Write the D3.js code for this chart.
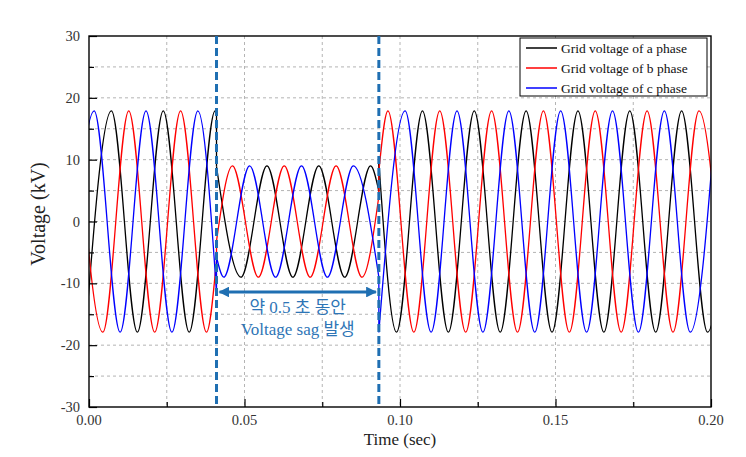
<!DOCTYPE html>
<html><head><meta charset="utf-8">
<script src="https://cdn.jsdelivr.net/npm/d3@7/dist/d3.min.js"></script>
<style>
body{margin:0;background:#fff}svg{display:block}
.serif{font-family:"Liberation Serif","Times New Roman","DejaVu Serif",serif}
.ann{font-family:"Liberation Serif","Noto Sans CJK KR",serif}
</style>
</head><body><svg id="chart" width="746" height="457"></svg>
<script>
// ---------- data ----------
const xTicks = [0, 0.05, 0.10, 0.15, 0.20];
const xTickLabels = ["0.00", "0.05", "0.10", "0.15", "0.20"];
const yTicks = [-30, -20, -10, 0, 10, 20, 30];
const seriesNames = ["Grid voltage of a phase", "Grid voltage of b phase", "Grid voltage of c phase"];
const seriesColors = ["#000000", "#ff0000", "#0000ff"];
const sagMarks = [0.0410, 0.0932];
const sagTextLines = ["약 0.5 초 동안", "Voltage sag 발생"];

// waveform key points [time (s), voltage (kV)] : extremes + step points
const aPre  = [[-0.00111,-17.9],[0.00722,17.9],[0.01555,-17.9],[0.02388,17.9],[0.03222,-17.9],[0.04055,17.9],[0.0410,17.65]];
const aSag  = [[0.0410,8.87],[0.04888,-9.0],[0.05722,9.0],[0.06555,-9.0],[0.07388,9.0],[0.08222,-9.0],[0.09055,9.0],[0.0932,4.88]];
const aPost = [[0.0932,9.70],[0.09888,-17.9],[0.10722,17.9],[0.11555,-17.9],[0.12388,17.9],[0.13222,-17.9],[0.14055,17.9],[0.14888,-17.9],[0.15722,17.9],[0.16555,-17.9],[0.17388,17.9],[0.18222,-17.9],[0.19055,17.9],[0.19888,-17.9],[0.20722,17.9]];

const bPre  = [[-0.00388,17.9],[0.00445,-17.9],[0.01278,17.9],[0.02112,-17.9],[0.02945,17.9],[0.03778,-17.9],[0.0410,-6.27]];
const bSag  = [[0.0410,-3.15],[0.04612,9.0],[0.05445,-9.0],[0.06278,9.0],[0.07112,-9.0],[0.07945,9.0],[0.08778,-9.0],[0.0932,4.09]];
const bPost = [[0.0932,8.13],[0.09612,17.9],[0.10445,-17.9],[0.11278,17.9],[0.12112,-17.9],[0.12945,17.9],[0.13778,-17.9],[0.14612,17.9],[0.15445,-17.9],[0.16278,17.9],[0.17112,-17.9],[0.17945,17.9],[0.18778,-17.9],[0.19612,17.9],[0.20445,-17.9]];

const cPre  = [[-0.00667,-17.9],[0.00166,17.9],[0.01000,-17.9],[0.01833,17.9],[0.02666,-17.9],[0.03500,17.9],[0.0410,-11.42]];
const cSag  = [[0.0410,-5.74],[0.04333,-9.0],[0.05166,9.0],[0.06000,-9.0],[0.06833,9.0],[0.07666,-9.0],[0.08500,9.0],[0.0932,-9.0]];
const cPost = [[0.0932,-17.9],[0.10166,17.9],[0.11000,-17.9],[0.11833,17.9],[0.12666,-17.9],[0.13500,17.9],[0.14333,-17.9],[0.15166,17.9],[0.16000,-17.9],[0.16833,17.9],[0.17666,-17.9],[0.18500,17.9],[0.19333,-17.9],[0.20166,17.9]];

const phaseSegments = [[aPre, aSag, aPost], [bPre, bSag, bPost], [cPre, cSag, cPost]];

// ---------- layout ----------
const L = 89, R = 711, T = 36, B = 407;
const svg = d3.select("#chart");
svg.append("rect").attr("width", 746).attr("height", 457).attr("fill", "#fff");

const x = d3.scaleLinear().domain([0, 0.2]).range([L, R]);
const y = d3.scaleLinear().domain([-30, 30]).range([B, T]);

// grid
const gridY = d3.range(-25, 30, 5);
const gridX = d3.range(0.025, 0.2, 0.025);
svg.append("g").selectAll("line").data(gridY).join("line")
  .attr("x1", L).attr("x2", R).attr("y1", d => y(d)).attr("y2", d => y(d))
  .attr("stroke", "#b4b4b4").attr("stroke-width", 1).attr("stroke-dasharray", "3,3");
svg.append("g").selectAll("line").data(gridX).join("line")
  .attr("y1", T).attr("y2", B).attr("x1", d => x(d)).attr("x2", d => x(d))
  .attr("stroke", "#b4b4b4").attr("stroke-width", 1).attr("stroke-dasharray", "3,3");

// clip
svg.append("clipPath").attr("id", "clip").append("rect")
  .attr("x", L).attr("y", T).attr("width", R - L).attr("height", B - T);

const line = d3.line().x(d => x(d[0])).y(d => y(d[1])).curve(d3.curveMonotoneX);
const link = d3.line().x(d => x(d[0])).y(d => y(d[1]));

const plot = svg.append("g").attr("clip-path", "url(#clip)");
phaseSegments.forEach((segs, i) => {
  const g = plot.append("g");
  segs.forEach((seg, j) => {
    g.append("path").attr("d", line(seg)).attr("fill", "none")
      .attr("stroke", seriesColors[i]).attr("stroke-width", 1.3);
    if (j < segs.length - 1) {
      const nxt = segs[j + 1];
      g.append("path").attr("d", link([seg[seg.length - 1], nxt[0]])).attr("fill", "none")
        .attr("stroke", seriesColors[i]).attr("stroke-width", 1.3);
    }
  });
});

// axes (ticks inward, left & bottom)
const xAxis = d3.axisBottom(x).tickValues(d3.range(0, 0.2001, 0.025)).tickSize(-5).tickFormat("");
const yAxis = d3.axisLeft(y).tickValues(d3.range(-30, 30.01, 5)).tickSize(-5).tickFormat("");
const gx = svg.append("g").attr("transform", `translate(0,${B})`).call(xAxis);
const gy = svg.append("g").attr("transform", `translate(${L},0)`).call(yAxis);
[gx, gy].forEach(g => { g.select(".domain").remove(); g.selectAll("line").attr("stroke", "#000").attr("stroke-width", 1.2); });
gx.selectAll(".tick line").attr("y2", (d, i) => i % 2 === 0 ? -8 : -5);
gy.selectAll(".tick line").attr("x2", (d, i) => i % 2 === 0 ? 8 : 5);

// frame
svg.append("rect").attr("x", L).attr("y", T).attr("width", R - L).attr("height", B - T)
  .attr("fill", "none").attr("stroke", "#000").attr("stroke-width", 1.4);

// tick labels
svg.append("g").selectAll("text").data(xTicks).join("text").attr("class", "serif")
  .attr("x", d => x(d)).attr("y", B + 18).attr("text-anchor", "middle")
  .attr("font-size", 14.5).attr("fill", "#333")
  .text((d, i) => xTickLabels[i]);
svg.append("g").selectAll("text").data(yTicks).join("text").attr("class", "serif")
  .attr("x", L - 9).attr("y", d => y(d) + 5).attr("text-anchor", "end")
  .attr("font-size", 14.5).attr("fill", "#333")
  .text(d => d);

// axis titles
svg.append("text").attr("class", "serif").attr("x", 400).attr("y", 445).attr("text-anchor", "middle")
  .attr("font-size", 17).attr("fill", "#222").text("Time (sec)");
svg.append("text").attr("class", "serif").attr("transform", `translate(45,214) rotate(-90)`)
  .attr("text-anchor", "middle").attr("font-size", 20)
  .attr("fill", "#222").text("Voltage (kV)");

// legend
const lg = svg.append("g");
lg.append("rect").attr("x", 520).attr("y", 38).attr("width", 187).attr("height", 58)
  .attr("fill", "#fff").attr("stroke", "#000").attr("stroke-width", 1);
seriesNames.forEach((n, i) => {
  const yy = 48 + i * 20;
  lg.append("line").attr("x1", 526).attr("x2", 557).attr("y1", yy).attr("y2", yy)
    .attr("stroke", seriesColors[i]).attr("stroke-width", 1.5);
  lg.append("text").attr("class", "serif").attr("x", 561).attr("y", yy + 4.5)
    .attr("font-size", 13.5).attr("fill", "#111").text(n);
});

// sag annotation
const annColor = "#1f6fb2";
svg.append("g").selectAll("line").data(sagMarks).join("line")
  .attr("x1", d => x(d)).attr("x2", d => x(d)).attr("y1", T).attr("y2", B)
  .attr("stroke", annColor).attr("stroke-width", 3).attr("stroke-dasharray", "8,4");

const defs = svg.append("defs");
defs.append("marker").attr("id", "ah").attr("viewBox", "0 0 10 10").attr("refX", 9).attr("refY", 5)
  .attr("markerWidth", 3.6).attr("markerHeight", 3.6).attr("orient", "auto-start-reverse")
  .append("path").attr("d", "M0,0L10,5L0,10z").attr("fill", annColor);
const ay = 292;
svg.append("line").attr("x1", x(sagMarks[0]) + 3).attr("x2", x(sagMarks[1]) - 3)
  .attr("y1", ay).attr("y2", ay).attr("stroke", annColor).attr("stroke-width", 3)
  .attr("marker-start", "url(#ah)").attr("marker-end", "url(#ah)");
const midX = (x(sagMarks[0]) + x(sagMarks[1])) / 2;
sagTextLines.forEach((t, i) => {
  svg.append("text").attr("class", "ann").attr("x", midX).attr("y", 313 + i * 22).attr("text-anchor", "middle")
    .attr("font-size", 17).attr("fill", "#2e75b6").text(t);
});
</script></body></html>
